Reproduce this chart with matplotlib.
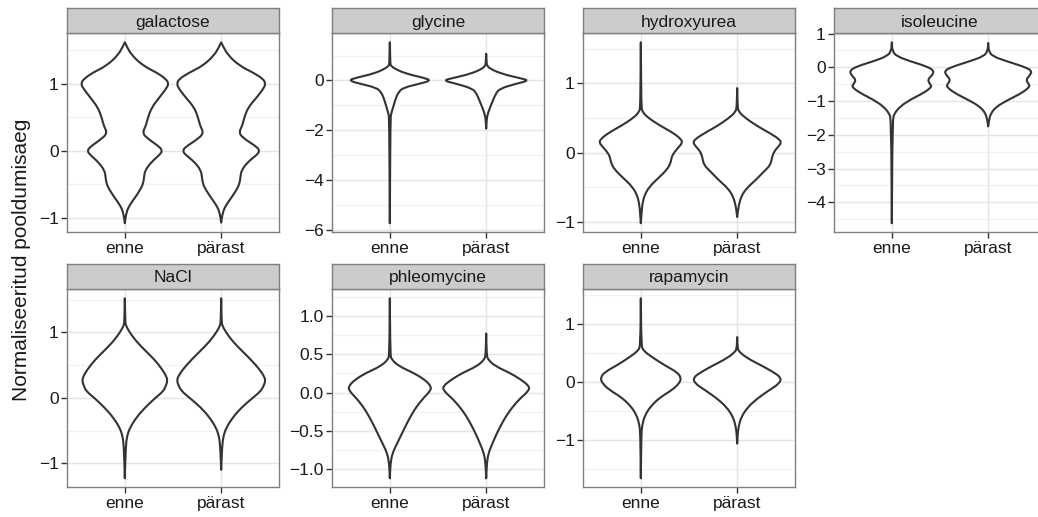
import matplotlib
matplotlib.use("Agg")
import matplotlib.pyplot as plt
from matplotlib.path import Path
from matplotlib.patches import PathPatch
import numpy as np

plt.rcParams["font.family"] = ["Liberation Sans", "DejaVu Sans"]

# violin outlines: (y, half width in x units)
GALACTOSE_ENNE = [(1.62, 0.0), (1.56, 0.02), (1.43, 0.07), (1.27, 0.19), (1.17, 0.33),
                  (1.07, 0.43), (1.0, 0.455), (0.93, 0.43), (0.80, 0.36), (0.65, 0.28),
                  (0.50, 0.24), (0.38, 0.22), (0.26, 0.18), (0.16, 0.26), (0.06, 0.36),
                  (0.0, 0.39), (-0.06, 0.36), (-0.16, 0.28), (-0.29, 0.21), (-0.39, 0.20),
                  (-0.49, 0.19), (-0.58, 0.16), (-0.71, 0.10), (-0.81, 0.05), (-0.91, 0.017),
                  (-1.08, 0.0)]
GALACTOSE_PARAST = [(1.62, 0.0), (1.56, 0.02), (1.43, 0.07), (1.27, 0.19), (1.17, 0.33),
                    (1.07, 0.44), (1.0, 0.46), (0.93, 0.44), (0.80, 0.37), (0.65, 0.28),
                    (0.50, 0.24), (0.38, 0.22), (0.26, 0.18), (0.16, 0.26), (0.06, 0.37),
                    (0.0, 0.40), (-0.06, 0.37), (-0.16, 0.28), (-0.29, 0.21), (-0.39, 0.20),
                    (-0.49, 0.19), (-0.58, 0.16), (-0.71, 0.10), (-0.81, 0.05), (-0.91, 0.017),
                    (-1.07, 0.0)]

GLYCINE_ENNE = [(1.53, 0.0), (0.67, 0.005), (0.6, 0.01), (0.47, 0.05), (0.27, 0.17),
                (0.11, 0.35), (0.0, 0.43), (-0.13, 0.31), (-0.29, 0.14), (-0.47, 0.09),
                (-0.73, 0.06), (-1.07, 0.035), (-1.33, 0.014), (-1.53, 0.006), (-5.73, 0.0)]
GLYCINE_PARAST = [(1.07, 0.0), (0.67, 0.005), (0.6, 0.01), (0.47, 0.04), (0.27, 0.16),
                  (0.11, 0.33), (0.0, 0.45), (-0.13, 0.31), (-0.33, 0.14), (-0.53, 0.10),
                  (-0.8, 0.07), (-1.13, 0.035), (-1.4, 0.012), (-1.6, 0.005), (-1.93, 0.0)]

HYDROXYUREA_ENNE = [(1.59, 0.0), (0.66, 0.005), (0.59, 0.015), (0.50, 0.076), (0.38, 0.21),
                    (0.28, 0.34), (0.19, 0.42), (0.14, 0.43), (0.09, 0.40), (0.01, 0.35),
                    (-0.06, 0.32), (-0.15, 0.31), (-0.25, 0.27), (-0.37, 0.18), (-0.49, 0.09),
                    (-0.61, 0.04), (-0.73, 0.017), (-0.88, 0.007), (-1.02, 0.0)]
HYDROXYUREA_PARAST = [(0.93, 0.0), (0.66, 0.005), (0.59, 0.015), (0.50, 0.083), (0.38, 0.21),
                      (0.28, 0.34), (0.19, 0.44), (0.14, 0.457), (0.09, 0.43), (0.01, 0.38),
                      (-0.08, 0.36), (-0.18, 0.345), (-0.27, 0.28), (-0.40, 0.19),
                      (-0.52, 0.093), (-0.64, 0.04), (-0.76, 0.017), (-0.85, 0.007), (-0.93, 0.0)]

ISOLEUCINE_ENNE = [(0.74, 0.0), (0.48, 0.006), (0.33, 0.05), (0.18, 0.19), (0.03, 0.36),
                   (-0.10, 0.44), (-0.25, 0.415), (-0.37, 0.37), (-0.51, 0.40), (-0.58, 0.415),
                   (-0.76, 0.33), (-0.96, 0.19), (-1.16, 0.087), (-1.36, 0.028), (-1.55, 0.007),
                   (-4.62, 0.0)]
ISOLEUCINE_PARAST = [(0.72, 0.0), (0.48, 0.006), (0.33, 0.045), (0.18, 0.19), (0.03, 0.36),
                     (-0.10, 0.457), (-0.25, 0.43), (-0.37, 0.39), (-0.51, 0.425), (-0.58, 0.43),
                     (-0.76, 0.35), (-0.96, 0.21), (-1.16, 0.087), (-1.36, 0.028), (-1.55, 0.01),
                     (-1.75, 0.0)]

NACL_ENNE = [(1.52, 0.0), (1.16, 0.005), (1.11, 0.01), (1.01, 0.045), (0.86, 0.12), (0.71, 0.22),
             (0.58, 0.31), (0.43, 0.39), (0.33, 0.43), (0.26, 0.443), (0.18, 0.425), (0.10, 0.40),
             (-0.01, 0.31), (-0.15, 0.21), (-0.30, 0.12), (-0.46, 0.052), (-0.58, 0.024),
             (-0.73, 0.01), (-1.23, 0.0)]
NACL_PARAST = [(1.52, 0.0), (1.16, 0.005), (1.11, 0.01), (1.01, 0.045), (0.86, 0.12), (0.71, 0.22),
               (0.58, 0.31), (0.43, 0.40), (0.33, 0.445), (0.26, 0.46), (0.18, 0.44), (0.10, 0.41),
               (-0.01, 0.32), (-0.15, 0.21), (-0.30, 0.12), (-0.46, 0.052), (-0.58, 0.024),
               (-0.73, 0.01), (-1.10, 0.0)]

PHLEOMYCINE_ENNE = [(1.23, 0.0), (0.50, 0.005), (0.43, 0.017), (0.34, 0.10), (0.26, 0.24),
                    (0.17, 0.36), (0.08, 0.43), (0.02, 0.42), (-0.07, 0.35), (-0.18, 0.28),
                    (-0.29, 0.225), (-0.42, 0.17), (-0.55, 0.12), (-0.68, 0.07), (-0.79, 0.028),
                    (-0.92, 0.007), (-1.12, 0.0)]
PHLEOMYCINE_PARAST = [(0.77, 0.0), (0.50, 0.005), (0.43, 0.017), (0.34, 0.10), (0.26, 0.24),
                      (0.17, 0.36), (0.08, 0.45), (0.02, 0.44), (-0.08, 0.35), (-0.18, 0.28),
                      (-0.29, 0.215), (-0.42, 0.156), (-0.55, 0.104), (-0.68, 0.06),
                      (-0.79, 0.024), (-0.92, 0.007), (-1.12, 0.0)]

RAPAMYCIN_ENNE = [(1.45, 0.0), (0.64, 0.005), (0.55, 0.024), (0.44, 0.11), (0.29, 0.25),
                  (0.18, 0.37), (0.08, 0.42), (-0.02, 0.40), (-0.14, 0.32), (-0.25, 0.21),
                  (-0.40, 0.11), (-0.57, 0.042), (-0.74, 0.014), (-0.91, 0.005), (-1.66, 0.0)]
RAPAMYCIN_PARAST = [(0.78, 0.0), (0.58, 0.005), (0.52, 0.024), (0.41, 0.11), (0.29, 0.25),
                    (0.18, 0.37), (0.08, 0.457), (-0.02, 0.44), (-0.14, 0.33), (-0.28, 0.21),
                    (-0.43, 0.11), (-0.60, 0.042), (-0.77, 0.014), (-0.91, 0.005), (-1.06, 0.0)]

FACETS = ["galactose", "glycine", "hydroxyurea", "isoleucine", "NaCl", "phleomycine", "rapamycin"]
GROUPS = ["enne", "pärast"]
VIOLINS = [(GALACTOSE_ENNE, GALACTOSE_PARAST), (GLYCINE_ENNE, GLYCINE_PARAST),
           (HYDROXYUREA_ENNE, HYDROXYUREA_PARAST), (ISOLEUCINE_ENNE, ISOLEUCINE_PARAST),
           (NACL_ENNE, NACL_PARAST), (PHLEOMYCINE_ENNE, PHLEOMYCINE_PARAST),
           (RAPAMYCIN_ENNE, RAPAMYCIN_PARAST)]
YTICKS = [[-1, 0, 1], [-6, -4, -2, 0], [-1, 0, 1], [-4, -3, -2, -1, 0, 1],
          [-1, 0, 1], [-1.0, -0.5, 0.0, 0.5, 1.0], [-1, 0, 1]]
YLABEL = "Normaliseeritud pooldumisaeg"

W, H = 1038, 517
fig = plt.figure(figsize=(W / 100, H / 100), dpi=100)

col_left = [67, 332, 583, 834]
pan_w = 212
rows = [(8.3, 33.3, 232.3), (264, 289.3, 487.3)]  # strip top, panel top, panel bottom


def box(x0, top, w, bottom):
    return [x0 / W, 1 - bottom / H, w / W, (bottom - top) / H]


def side_path(pts):
    # quadratic spline with the read points as control points, ends kept
    verts = [pts[0], (pts[0] + pts[1]) / 2]
    codes = [Path.LINETO, Path.LINETO]
    for k in range(1, len(pts) - 1):
        verts += [pts[k], (pts[k] + pts[k + 1]) / 2]
        codes += [Path.CURVE3, Path.CURVE3]
    verts.append(pts[-1])
    codes.append(Path.LINETO)
    return verts, codes


def violin(ax, pos, prof):
    ys = np.array([p[0] for p in prof])
    ws = np.array([p[1] for p in prof])
    left = np.column_stack([pos - ws, ys])
    right = np.column_stack([pos + ws, ys])[::-1]
    v1, c1 = side_path(left)
    v2, c2 = side_path(right)
    verts = v1 + v2[1:] + [v1[0]]
    codes = [Path.MOVETO] + c1[1:] + c2[1:] + [Path.CLOSEPOLY]
    patch = PathPatch(Path(verts, codes), facecolor="white", edgecolor="#333333",
                      lw=1.5, joinstyle="round", zorder=2)
    ax.add_patch(patch)


for i, name in enumerate(FACETS):
    r, c = divmod(i, 4)
    s_top, p_top, p_bot = rows[r]
    ax = fig.add_axes(box(col_left[c], p_top, pan_w, p_bot))
    sax = fig.add_axes(box(col_left[c], s_top, pan_w, p_top))

    ax.set_facecolor("white")
    ymin = min(y for v in VIOLINS[i] for y, _ in v)
    ymax = max(y for v in VIOLINS[i] for y, _ in v)
    pad = (ymax - ymin) * 0.05
    ax.set_ylim(ymin - pad, ymax + pad)
    ax.set_xlim(0.4, 2.6)

    ticks = YTICKS[i]
    step = ticks[1] - ticks[0]
    minor = [t + step / 2 for t in [ticks[0] - step] + ticks]
    for m in minor:
        ax.axhline(m, color="#F2F2F2", lw=0.9, zorder=0)
    for t in ticks:
        ax.axhline(t, color="#E5E5E5", lw=1.0, zorder=0.5)
    for x in (1, 2):
        ax.axvline(x, color="#E5E5E5", lw=1.0, zorder=0.5)

    for pos, prof in enumerate(VIOLINS[i], start=1):
        violin(ax, pos, prof)

    ax.set_yticks(ticks)
    if name == "phleomycine":
        ax.set_yticklabels([f"{t:.1f}".replace("-", "\u2212") for t in ticks])
    else:
        ax.set_yticklabels([str(t).replace("-", "\u2212") for t in ticks])
    ax.set_xticks([1, 2])
    ax.set_xticklabels(GROUPS)
    ax.tick_params(length=4, width=1.0, color="#333333", labelsize=12.5,
                   labelcolor="#1A1A1A", pad=2)
    for sp in ax.spines.values():
        sp.set_color("#7F7F7F")
        sp.set_linewidth(1.0)

    sax.set_facecolor("#CCCCCC")
    sax.set_xticks([])
    sax.set_yticks([])
    for sp in sax.spines.values():
        sp.set_color("#7F7F7F")
        sp.set_linewidth(1.0)
    sax.text(0.5, 0.45, name, ha="center", va="center", fontsize=12.5,
             color="#1A1A1A", transform=sax.transAxes)

fig.text(22 / W, 1 - 260 / H, YLABEL, rotation=90, ha="center", va="center",
         fontsize=15, color="#1A1A1A")

fig.savefig("out.png", dpi=100)
